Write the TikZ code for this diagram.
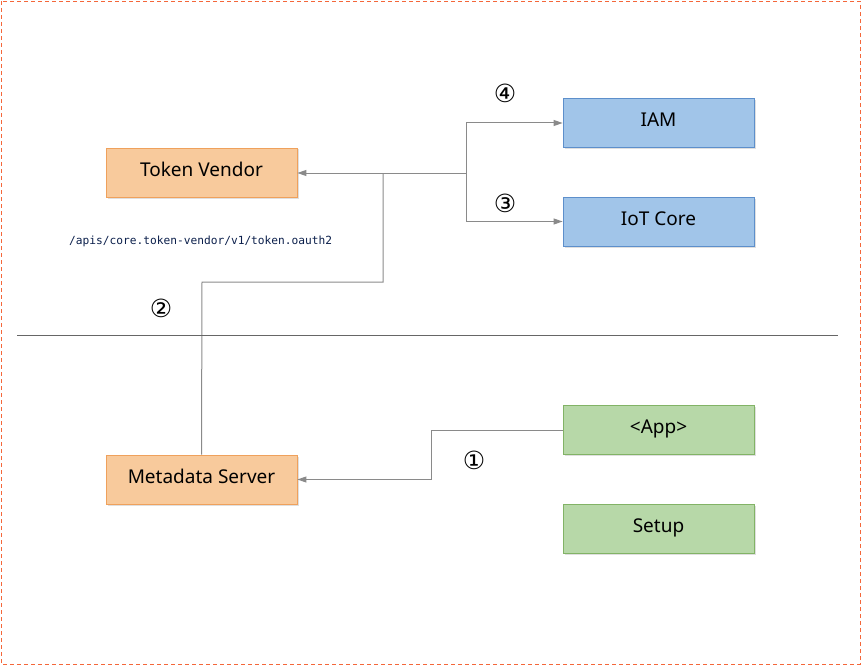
\documentclass[tikz,border=0pt]{standalone}
\usepackage{fontspec}
\setmainfont{Noto Sans}
\newfontfamily\circfont{DejaVu Sans}
\newfontfamily\monofont{DejaVu Sans Mono}
\usetikzlibrary{shadows,arrows.meta}
\definecolor{orfill}{HTML}{F8CA9C}
\definecolor{ordraw}{HTML}{EFA15C}
\definecolor{blfill}{HTML}{A1C5E9}
\definecolor{bldraw}{HTML}{5D8FCB}
\definecolor{grfill}{HTML}{B7D8A8}
\definecolor{grdraw}{HTML}{82B366}
\definecolor{edgec}{HTML}{8A8A8A}
\definecolor{framec}{HTML}{F4673A}
\definecolor{navy}{HTML}{0B1F4B}
\tikzset{
  boxbase/.style={minimum width=191pt,minimum height=49pt,inner sep=0pt,font=\fontsize{19}{20}\selectfont,
    text depth=3.5pt,text height=11pt,
    drop shadow={shadow xshift=1.5pt,shadow yshift=-1.5pt,opacity=0.25}},
  orbox/.style={boxbase,fill=orfill,draw=ordraw,line width=0.8pt},
  blbox/.style={boxbase,fill=blfill,draw=bldraw,line width=0.8pt},
  grbox/.style={boxbase,fill=grfill,draw=grdraw,line width=0.8pt},
  conn/.style={draw=edgec,line width=1pt},
  arr/.style={conn,-{Triangle[length=9pt,width=6pt]}},
  circnum/.style={font=\circfont\fontsize{25}{26}\selectfont,inner sep=0pt},
}
\begin{document}
\begin{tikzpicture}[x=1pt,y=-1pt]
\useasboundingbox (0,0) rectangle (862,666);
\draw[framec,dashed,dash pattern=on 4pt off 3pt,line width=0.8pt] (1,1) rectangle (860,664);

\node[orbox] (tv) at (201.5,172.5) {Token Vendor};
\node[orbox] (ms) at (201.5,479.5) {Metadata Server};
\node[blbox] (iam) at (658.5,123) {IAM};
\node[blbox] (iot) at (658.5,221.5) {IoT Core};
\node[grbox] (app) at (658.5,430) {<App>};
\node[grbox] (setup) at (658.5,528.5) {Setup};

\coordinate (j1) at (383,173);
\coordinate (j2) at (466,173);
\coordinate (s1) at (17,335);
\coordinate (s2) at (838,335);

\draw[conn] (ms.north) -- (202,282) -| (j1);
\draw[arr] (j1) -- (tv.east |- j1);
\draw[conn] (j1) -- (j2);
\draw[arr] (j2) |- (iam.west);
\draw[arr] (j2) |- (iot.west);
\draw[arr] (app.west) -| (431,479.5) -- (ms.east);

\draw[draw=black!60,line width=0.9pt] (s1) -- (s2);

\node[font=\monofont\fontsize{11.2}{12}\selectfont,text=navy,anchor=west,inner sep=0pt] (url) at (69,241) {/apis/core.token-vendor/v1/token.oauth2};

\node[circnum] (n1) at (474,460) {①};
\node[circnum] (n2) at (161,308) {②};
\node[circnum] (n3) at (505,203) {③};
\node[circnum] (n4) at (505,93) {④};
\end{tikzpicture}
\end{document}
